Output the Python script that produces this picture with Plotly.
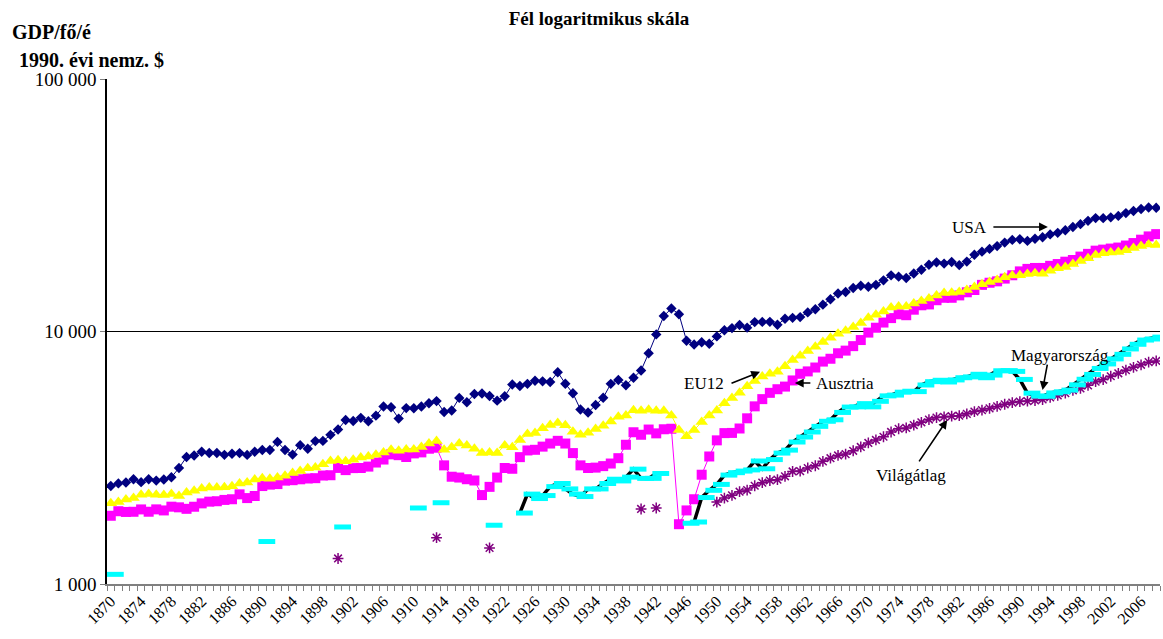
import math

import plotly.graph_objects as go

# --- Data: GDP per capita, 1990 international $ ------------------------------
YEARS = list(range(1870, 2009))
N = None

USA = [
    2445, 2503, 2524, 2601, 2531, 2599, 2567, 2595, 2647, 2880,
    3184, 3228, 3338, 3302, 3303, 3247, 3282, 3300, 3245, 3342,
    3392, 3396, 3654, 3396, 3255, 3548, 3432, 3680, 3687, 3897,
    4091, 4464, 4421, 4551, 4410, 4642, 5047, 5011, 4520, 4974,
    4964, 5046, 5201, 5301, 4799, 4864, 5459, 5248, 5659, 5680,
    5552, 5323, 5540, 6164, 6083, 6204, 6382, 6348, 6313, 6899,
    6213, 5691, 4908, 4777, 5114, 5467, 6204, 6430, 6126, 6561,
    7010, 8206, 9741, 11518, 12333, 11709, 9197, 8886, 9065, 8944,
    9561, 10116, 10316, 10613, 10359, 10897, 10914, 10920, 10631, 11230,
    11328, 11402, 11905, 12242, 12773, 13419, 14134, 14330, 14863, 15179,
    15030, 15304, 15944, 16689, 16491, 16284, 16975, 17567, 18373, 18789,
    18577, 18856, 18325, 18920, 20123, 20717, 21236, 21788, 22499, 23059,
    23201, 22849, 23298, 23616, 24241, 24588, 25182, 25923, 26616, 27427,
    28129, 28111, 28322, 28701, 29434, 30021, 30558, 31000, 30900,
]

EU12 = [
    2086, 2110, 2160, 2190, 2255, 2270, 2258, 2253, 2272, 2231,
    2303, 2340, 2388, 2413, 2409, 2414, 2438, 2501, 2526, 2591,
    2621, 2610, 2639, 2684, 2752, 2800, 2871, 2890, 2978, 3070,
    3089, 3063, 3105, 3166, 3196, 3250, 3319, 3405, 3369, 3410,
    3413, 3491, 3601, 3688, 3400, 3480, 3600, 3540, 3430, 3300,
    3320, 3300, 3540, 3480, 3720, 3930, 3960, 4140, 4260, 4340,
    4250, 4010, 3900, 3970, 4110, 4230, 4400, 4600, 4650, 4880,
    4850, 4900, 4850, 4850, 4650, 4070, 3850, 4070, 4380, 4650,
    4870, 5200, 5450, 5720, 6070, 6370, 6630, 6800, 6920, 7280,
    7710, 8010, 8380, 8710, 9090, 9440, 9790, 10060, 10430, 10810,
    11330, 11660, 12000, 12460, 12570, 12570, 12900, 13200, 13500, 13900,
    14200, 14250, 14350, 14600, 15000, 15400, 15700, 16000, 16400, 16650,
    16700, 16900, 17000, 16950, 17400, 17800, 18000, 18500, 19000, 19500,
    20100, 20400, 20550, 20650, 21000, 21400, 21800, 22100, 22000,
]

AUSTRIA = [
    1863, 1942, 1929, 1932, 1974, 1933, 1975, 1956, 2024, 2012,
    1985, 2023, 2086, 2119, 2127, 2153, 2166, 2265, 2189, 2231,
    2443, 2475, 2487, 2567, 2577, 2598, 2617, 2625, 2689, 2696,
    2882, 2825, 2877, 2880, 2917, 3027, 3111, 3261, 3237, 3184,
    3290, 3321, 3434, 3465, 2950, 2660, 2640, 2600, 2570, 2250,
    2425, 2640, 2880, 2860, 3180, 3380, 3400, 3500, 3600, 3690,
    3600, 3300, 2950, 2880, 2890, 2930, 3000, 3150, 3560, 3990,
    3900, 4090, 3950, 4100, 4120, 1725, 1956, 2166, 2709, 3199,
    3706, 3959, 3966, 4129, 4531, 5053, 5397, 5716, 5907, 6051,
    6400, 6800, 6950, 7200, 7600, 7800, 8200, 8400, 8750, 9250,
    9900, 10350, 10850, 11300, 11700, 11600, 12200, 12700, 12800, 13300,
    13600, 13600, 13900, 14300, 14600, 15300, 15600, 15800, 16200, 16700,
    17300, 17700, 17850, 17850, 18200, 18500, 18900, 19200, 19800, 20300,
    20900, 21100, 21300, 21500, 21900, 22400, 23100, 23800, 24300,
]

HUNGARY = [
    1092, N, N, N, N, N, N, N, N, N,
    N, N, N, N, N, N, N, N, N, N,
    1473, N, N, N, N, N, N, N, N, N,
    1682, N, N, N, N, N, N, N, N, N,
    2000, N, N, 2098, N, N, N, N, N, N,
    1709, N, N, N, 1910, 2270, 2180, 2240, 2430, 2500,
    2380, 2270, 2220, 2380, 2380, 2500, 2600, 2560, 2650, 2850,
    2620, 2620, 2740, N, N, N, 1740, 1760, 2200, 2350,
    2480, 2700, 2760, 2800, 2830, 3070, 2860, 3110, 3300, 3390,
    3650, 3820, 4000, 4210, 4410, 4470, 4780, 5020, 5030, 5180,
    5030, 5290, 5560, 5600, 5750, 5800, 5780, 6140, 6330, 6410,
    6310, 6430, 6560, 6610, 6770, 6560, 6720, 6990, 7000, 6950,
    6460, 5700, 5550, 5540, 5710, 5770, 5860, 6150, 6470, 6760,
    7140, 7440, 7790, 8120, 8530, 8900, 9250, 9340, 9500,
]

WORLD = [
    N, N, N, N, N, N, N, N, N, N,
    N, N, N, N, N, N, N, N, N, N,
    N, N, N, N, N, N, N, N, N, N,
    1262, N, N, N, N, N, N, N, N, N,
    N, N, N, 1526, N, N, N, N, N, N,
    1390, N, N, N, N, N, N, N, N, N,
    N, N, N, N, N, N, N, N, N, N,
    1982, N, 2000, N, N, N, N, N, N, N,
    2110, 2190, 2245, 2320, 2355, 2450, 2520, 2570, 2590, 2670,
    2790, 2800, 2880, 2940, 3060, 3150, 3230, 3270, 3370, 3490,
    3620, 3720, 3830, 4000, 4120, 4150, 4260, 4370, 4480, 4560,
    4590, 4620, 4640, 4720, 4820, 4880, 4960, 5050, 5150, 5230,
    5280, 5300, 5330, 5380, 5480, 5580, 5700, 5850, 5950, 6120,
    6330, 6450, 6650, 6830, 7030, 7210, 7380, 7560, 7650,
]

X_LABELS = list(range(1870, 2007, 4))
Y_TICKS = [1000, 10000, 100000]
Y_TICK_TEXT = ["1 000", "10 000", "100 000"]

# cyan dash markers of the Hungary series sit a little right of the category
HU_MARKER_SHIFT = 0.6

FONT = "Liberation Serif, 'Times New Roman', serif"

fig = go.Figure()

fig.add_trace(go.Scatter(
    x=YEARS, y=AUSTRIA, mode="lines+markers", name="Ausztria",
    line=dict(color="#FF00FF", width=1),
    marker=dict(symbol="square", size=10, color="#FF00FF"),
))
fig.add_trace(go.Scatter(
    x=YEARS, y=EU12, mode="lines+markers", name="EU12",
    line=dict(color="#FFFF00", width=1),
    marker=dict(symbol="triangle-up", size=11, color="#FFFF00"),
))
fig.add_trace(go.Scatter(
    x=YEARS, y=USA, mode="lines+markers", name="USA",
    line=dict(color="#000080", width=1),
    marker=dict(symbol="diamond", size=8, color="#000080"),
))
fig.add_trace(go.Scatter(
    x=YEARS, y=WORLD, mode="lines+markers", name="Világátlag",
    line=dict(color="#800080", width=1),
    marker=dict(symbol="asterisk", size=9, line=dict(color="#800080", width=1.5)),
))
fig.add_trace(go.Scatter(
    x=YEARS, y=HUNGARY, mode="lines", name="Magyarország",
    line=dict(color="black", width=3.5),
))
fig.add_trace(go.Scatter(
    x=[yr + HU_MARKER_SHIFT for yr in YEARS], y=HUNGARY, mode="markers",
    name="Magyarország", showlegend=False,
    marker=dict(symbol="line-ew", size=12, line=dict(color="#00FFFF", width=5)),
))

# Series labels with their arrows: (text, text x, text y, head x, head y, ax, ay)
# y values are in $, converted to log10 because annotations on a log axis need it.
LABELS = [
    ("USA", 1983.3, 25700, 1993.7, 25950, -56, 0),
    ("EU12", 1948.3, 6250, 1955.7, 6920, -30, 12),
    ("Ausztria", 1966.9, 6250, 1960.3, 6250, 17, 0),
    ("Magyarország", 1995.3, 8070, 1993.0, 5860, 5, -27),
    ("Világátlag", 1975.6, 2700, 1980.4, 4465, -29, 43),
]
for text, tx, ty, hx, hy, ax, ay in LABELS:
    fig.add_annotation(x=tx, y=math.log10(ty), xref="x", yref="y", text=text,
                       showarrow=False, font=dict(family=FONT, size=17, color="black"))
    fig.add_annotation(x=hx, y=math.log10(hy), xref="x", yref="y", text="",
                       showarrow=True, ax=ax, ay=ay, arrowhead=2, arrowsize=1.1,
                       arrowwidth=1.6, arrowcolor="black", standoff=0, startstandoff=0)

# two-line y-axis caption above the tick labels (paper coords, outside the plot)
fig.add_annotation(xref="paper", yref="paper", x=-0.092, y=1.093,
                   xanchor="left", yanchor="middle",
                   text="<b>GDP/fő/é</b>", showarrow=False,
                   font=dict(family=FONT, size=20, color="black"))
fig.add_annotation(xref="paper", yref="paper", x=-0.085, y=1.037,
                   xanchor="left", yanchor="middle",
                   text="<b>1990. évi nemz. $</b>", showarrow=False,
                   font=dict(family=FONT, size=20, color="black"))

fig.update_layout(
    width=1163, height=639,
    margin=dict(l=107, r=3, t=79, b=55),
    paper_bgcolor="white", plot_bgcolor="white",
    showlegend=False,
    font=dict(family=FONT, color="black"),
    title=dict(text="<b>Fél logaritmikus skála</b>", x=0.515, xanchor="center",
               y=0.972, yanchor="middle", font=dict(family=FONT, size=19, color="black")),
)

fig.update_xaxes(
    range=[1869.5, 2008.5], tickvals=X_LABELS, ticktext=[str(v) for v in X_LABELS],
    tickangle=-45, ticks="", tickfont=dict(family=FONT, size=16),
    minor=dict(tick0=1869.5, dtick=1, ticks="outside", ticklen=5, tickcolor="#808080"),
    showline=True, linecolor="#808080", linewidth=1.5, showgrid=False,
    zeroline=False, automargin=False,
)
fig.update_yaxes(
    type="log", range=[3, 5], tickvals=Y_TICKS, ticktext=Y_TICK_TEXT,
    ticks="outside", ticklen=5, tickcolor="#808080", tickfont=dict(family=FONT, size=19),
    showgrid=True, gridcolor="black", gridwidth=1,
    showline=True, linecolor="black", linewidth=1.5, zeroline=False, automargin=False,
)

# the page's default 8px body margin would shift the whole chart
fig.write_html("out.html", config={"displayModeBar": False},
               post_script="document.body.style.margin='0';")
